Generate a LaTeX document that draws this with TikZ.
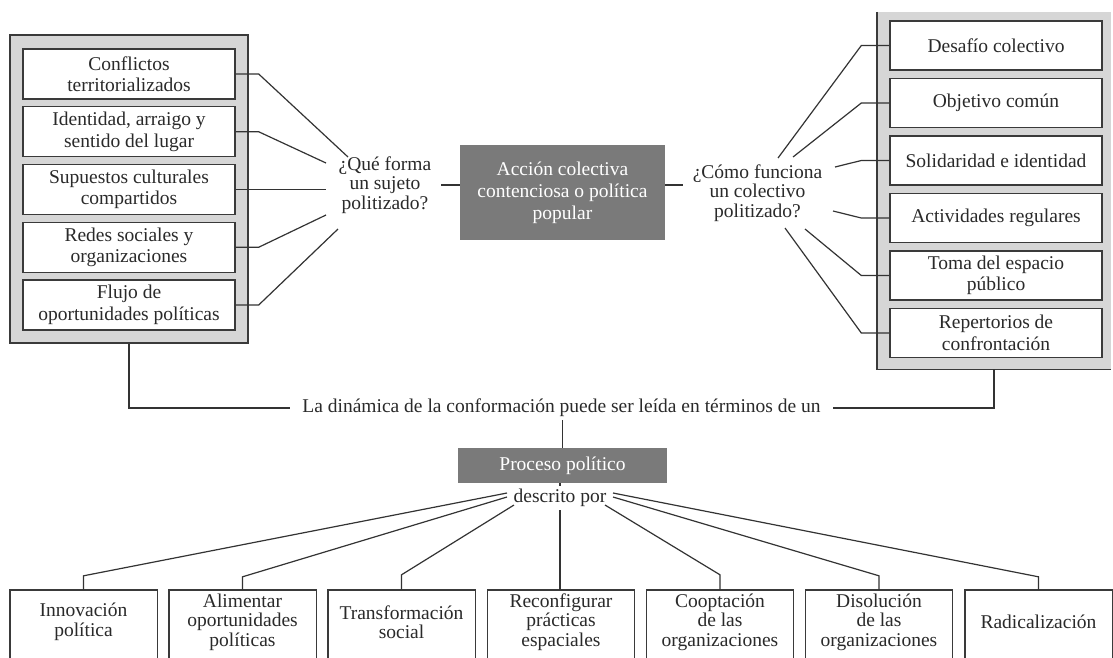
\documentclass[tikz,border=0pt]{standalone}
\usepackage{fontspec}
\setmainfont{Liberation Serif}
\definecolor{pg}{HTML}{D6D6D6}
\definecolor{bd}{HTML}{3A3A3A}
\definecolor{cg}{HTML}{7A7A7A}
\definecolor{txt}{HTML}{2A2A2A}
\definecolor{ln}{HTML}{333333}
\begin{document}
\begin{tikzpicture}[x=1pt,y=-1pt,
  every node/.style={font=\fontsize{19.5}{21.5}\selectfont, text=txt},
  panel/.style={fill=pg, draw=bd, line width=1.4pt, inner sep=0pt},
  rpanel/.style={fill=pg, draw=none, inner sep=0pt},
  wbox/.style={draw=bd, fill=white, line width=1.4pt, minimum width=212pt, minimum height=50pt, inner sep=0pt, align=center},
  cbox/.style={fill=cg, draw=none, inner sep=0pt, align=center, text=white},
  qnode/.style={align=center, inner xsep=10pt, inner ysep=3pt, font=\fontsize{19.5}{19.5}\selectfont},
  bbox/.style={minimum width=147pt, minimum height=64pt, inner sep=0pt, align=center, font=\fontsize{19.5}{19.5}\selectfont},
  conn/.style={draw=ln, line width=1.2pt},
  frame/.style={draw=bd, line width=1.4pt}
]
\clip (0,0) rectangle (1113,657);
\fill[white] (0,0) rectangle (1113,657);

% left panel
\node[panel, minimum width=238pt, minimum height=308pt] (lp) at (129,189) {};
\node[wbox] (l1) at (129,74) {Conflictos\\territorializados};
\node[wbox] (l2) at (129,131.75) {Identidad, arraigo y\\sentido del lugar};
\node[wbox] (l3) at (129,189.5) {Supuestos culturales\\compartidos};
\node[wbox] (l4) at (129,247.25) {Redes sociales y\\organizaciones};
\node[wbox] (l5) at (129,305) {Flujo de\\oportunidades políticas};

% right panel
\node[rpanel, minimum width=234pt, minimum height=357pt] (rp) at (994,190.5) {};
\draw[frame] (rp.north west) -- (rp.south west) -- (rp.south east);
\node[wbox, minimum height=49pt] (r1) at (996,45.5) {Desafío colectivo};
\node[wbox, minimum height=49pt] (r2) at (996,103) {Objetivo común};
\node[wbox, minimum height=49pt] (r3) at (996,160.5) {Solidaridad e identidad};
\node[wbox, minimum height=49pt] (r4) at (996,218) {Actividades regulares};
\node[wbox, minimum height=49pt] (r5) at (996,275.5) {Toma del espacio\\público};
\node[wbox, minimum height=49pt] (r6) at (996,333) {Repertorios de\\confrontación};

% center
\node[qnode] (qL) at (385,185) {¿Qué forma\\un sujeto\\politizado?};
\node[cbox, minimum width=205pt, minimum height=95pt, font=\fontsize{19.5}{22}\selectfont] (acc) at (562.5,192.5) {Acción colectiva\\contenciosa o política\\popular};
\node[qnode] (qR) at (757.5,193) {¿Cómo funciona\\un colectivo\\politizado?};
\draw[conn] (qL.east) -- (qL.east -| acc.west);
\draw[conn] (acc.east |- qL.east) -- (qR.west |- qL.east);

% left connectors
\coordinate (e1) at (348,157);
\coordinate (e2) at (326,163);
\coordinate (e3) at (326,189.5);
\coordinate (e4) at (326,215);
\coordinate (e5) at (338,229);
\draw[conn] (l1.east) -- ++(23,0) -- (e1);
\draw[conn] (l2.east) -- ++(23,0) -- (e2);
\draw[conn] (l3.east) -- (e3);
\draw[conn] (l4.east) -- ++(23,0) -- (e4);
\draw[conn] (l5.east) -- ++(23,0) -- (e5);

% right connectors
\coordinate (f1) at (778,158);
\coordinate (f2) at (793,157);
\coordinate (f3) at (835,167);
\coordinate (f4) at (833,211);
\coordinate (f5) at (805,229);
\coordinate (f6) at (785,228);
\draw[conn] (r1.west) -- ++(-28,0) -- (f1);
\draw[conn] (r2.west) -- ++(-28,0) -- (f2);
\draw[conn] (r3.west) -- ++(-28,0) -- (f3);
\draw[conn] (r4.west) -- ++(-28,0) -- (f4);
\draw[conn] (r5.west) -- ++(-28,0) -- (f5);
\draw[conn] (r6.west) -- ++(-28,0) -- (f6);

% middle
\node[inner xsep=12pt, inner ysep=3pt] (din) at (561.5,408) {La dinámica de la conformación puede ser leída en términos de un};
\draw[conn] (lp.south) |- (din.west);
\draw[conn] (rp.south) |- (din.east);
\node[cbox, minimum width=209pt, minimum height=35pt] (pp) at (562.5,465.5) {Proceso político};
\draw[conn] (pp.north) -- (pp.north |- din.south);
\node[inner sep=3pt] (desc) at (560,498) {descrito por};
\draw[conn] (desc.north) -- (desc.north |- pp.south);

% bottom boxes
\node[bbox] (b1) at (83.5,622) {Innovación\\política};
\node[bbox] (b2) at (242.5,622) {Alimentar\\oportunidades\\políticas};
\node[bbox] (b3) at (401.5,622) {Transformación\\social};
\node[bbox] (b4) at (561,622) {Reconfigurar\\prácticas\\espaciales};
\node[bbox] (b5) at (720,622) {Cooptación\\de las\\organizaciones};
\node[bbox] (b6) at (879,622) {Disolución\\de las\\organizaciones};
\node[bbox] (b7) at (1038.5,622) {Radicalización};
\foreach \n in {b1,b2,b3,b4,b5,b6,b7}
  \draw[frame] (\n.north west) rectangle ([yshift=-20pt]\n.south east);

\draw[conn] (desc.south) -- (desc.south |- b4.north);
\coordinate (g1) at (507,493);
\coordinate (g2) at (507,497);
\coordinate (g3) at (514,505);
\coordinate (g5) at (605,505);
\coordinate (g6) at (613,497);
\coordinate (g7) at (613,493);
\draw[conn] (b1.north) -- ++(0,-14) -- (g1);
\draw[conn] (b2.north) -- ++(0,-13) -- (g2);
\draw[conn] (b3.north) -- ++(0,-15) -- (g3);
\draw[conn] (b5.north) -- ++(0,-15) -- (g5);
\draw[conn] (b6.north) -- ++(0,-14) -- (g6);
\draw[conn] (b7.north) -- ++(0,-13) -- (g7);
\end{tikzpicture}
\end{document}
